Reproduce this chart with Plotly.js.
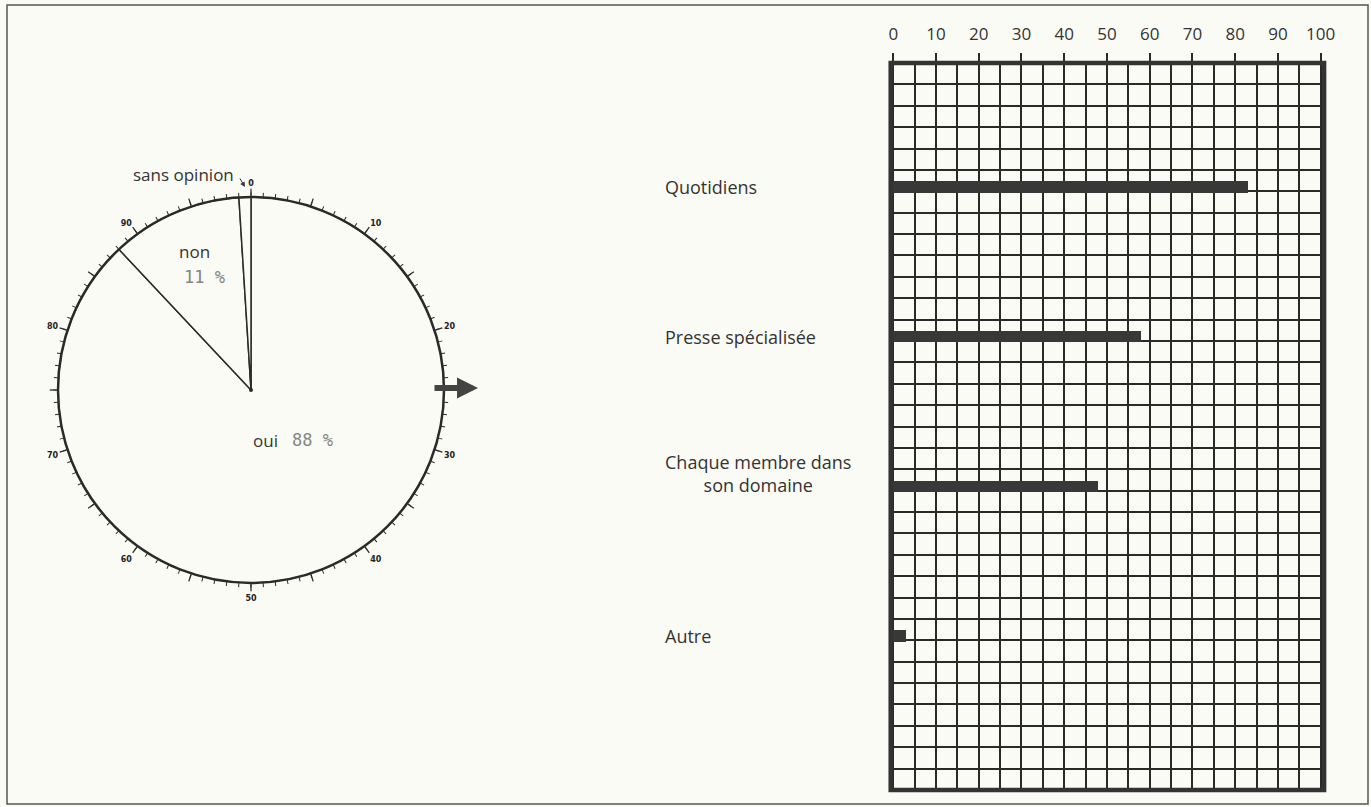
<!DOCTYPE html>
<html>
<head>
<meta charset="utf-8">
<script src="https://cdn.plot.ly/plotly-3.0.1.min.js"></script>
<style>
  html, body { margin: 0; padding: 0; background: #fbfbf6; }
  #chart { width: 1371px; height: 807px; }
</style>
</head>
<body>
<div id="chart"></div>
<script>
// ---- Data ----
const pieLabels = ['oui', 'non', 'sans opinion'];
const pieValues = [88, 11, 1];
const dialTickLabels = ['0', '10', '20', '30', '40', '50', '60', '70', '80', '90'];

const barCategories = ['Quotidiens', 'Presse spécialisée', 'Chaque membre dans<br>son domaine', 'Autre'];
const barValues = [83, 58, 48, 3];
const xTickLabels = [0, 10, 20, 30, 40, 50, 60, 70, 80, 90, 100];

// ---- Helpers / layout ----
const W = 1371, H = 807;
const BG = '#fbfbf6';
const INK = '#2a2a2a';
const SANS = '"Open Sans", Lato, sans-serif';
const MONO = '"DejaVu Sans Mono", "Liberation Mono", monospace';
const DEG_PER_PCT = 3.6;
const px = (x) => x / W;
const py = (y) => 1 - y / H;

// pie wedges (barpolar so they share the dial's angular scale)
let cum = 0;
const wedgeTheta = [], wedgeWidth = [];
pieValues.forEach(v => {
  wedgeTheta.push((cum + v / 2) * DEG_PER_PCT);
  wedgeWidth.push(v * DEG_PER_PCT);
  cum += v;
});

// dial ticks
const majorVals = [], majorText = [];
for (let p = 0; p < 100; p += 5) {
  majorVals.push(p * DEG_PER_PCT);
  majorText.push(p % 10 === 0 ? dialTickLabels[p / 10] : '');
}
const minorVals = [];
for (let p = 0; p < 100; p += 1) minorVals.push(p * DEG_PER_PCT);

// pie geometry (pixels)
const cx = 251, cy = 390, R = 193;
const polarDomain = { x: [px(cx - R), px(cx + R)], y: [py(cy + R), py(cy - R)] };

// bar rows
const ROWS = 34;
const barY = barCategories.map((c, i) => 5.8 + 7 * i);

const traces = [
  {
    type: 'barpolar',
    subplot: 'polar',
    r: pieValues.map(() => 1),
    theta: wedgeTheta,
    width: wedgeWidth,
    text: pieLabels,
    marker: { color: BG, line: { color: INK, width: 1.5 } },
    hoverinfo: 'text',
    showlegend: false
  },
  {
    type: 'scatterpolar',
    subplot: 'polar2',
    r: [0], theta: [0],
    mode: 'markers',
    marker: { size: 4, color: INK },
    hoverinfo: 'skip',
    showlegend: false
  },
  {
    type: 'bar',
    orientation: 'h',
    x: barValues,
    y: barY,
    width: 0.52,
    text: barCategories,
    textposition: 'none',
    marker: { color: '#383838', line: { width: 0 } },
    hoverinfo: 'text+x',
    showlegend: false,
    xaxis: 'x', yaxis: 'y'
  }
];

function note(x, y, text, font) {
  return { xref: 'paper', yref: 'paper', x: px(x), y: py(y), xanchor: 'center', yanchor: 'middle',
           text: text, showarrow: false, font: font };
}

const labelFont = { family: SANS, size: 17, color: '#333' };
const numFont = { family: MONO, size: 17, color: '#858585' };

const annotations = [
  // pie labels
  note(183, 174, pieLabels[2], labelFont),
  { xref: 'paper', yref: 'paper', x: px(245), y: py(187), ax: px(239), ay: py(177),
    axref: 'paper', ayref: 'paper', text: '', showarrow: true,
    arrowhead: 2, arrowsize: 1, arrowwidth: 1, arrowcolor: '#333' },
  note(194, 251, pieLabels[1], labelFont),
  note(204, 277, pieValues[1] + ' %', numFont),
  note(265, 440, pieLabels[0], labelFont),
  note(312, 440, pieValues[0] + ' %', numFont),
  // dial arrow
  { xref: 'paper', yref: 'paper', x: px(478), y: py(388), ax: px(433), ay: py(388),
    axref: 'paper', ayref: 'paper', text: '', showarrow: true,
    arrowhead: 2, arrowsize: 0.7, arrowwidth: 6, arrowcolor: '#444' }
];

barCategories.forEach((c, i) => {
  annotations.push({
    xref: 'paper', yref: 'y', x: px(663), y: barY[i], xanchor: 'left', yanchor: 'middle',
    yshift: c.indexOf('<br>') >= 0 ? 13 : 0,
    text: c, align: 'center', showarrow: false,
    font: { family: SANS, size: 18, color: '#333' }
  });
});

const layout = {
  width: W, height: H,
  margin: { l: 0, r: 0, t: 0, b: 0 },
  paper_bgcolor: BG,
  plot_bgcolor: BG,
  showlegend: false,
  polar: {
    domain: polarDomain,
    bgcolor: 'rgba(0,0,0,0)',
    bargap: 0,
    hole: 0,
    radialaxis: { visible: false, range: [0, 1] },
    angularaxis: {
      rotation: 90,
      direction: 'clockwise',
      tickmode: 'array',
      tickvals: majorVals,
      ticktext: majorText,
      ticks: 'outside',
      ticklen: 7,
      tickwidth: 1.3,
      tickcolor: INK,
      showline: true,
      linecolor: INK,
      linewidth: 2.5,
      showgrid: false,
      tickfont: { family: '"DejaVu Sans", sans-serif', size: 8, color: '#222', weight: 'bold' }
    }
  },
  polar2: {
    domain: polarDomain,
    bgcolor: 'rgba(0,0,0,0)',
    radialaxis: { visible: false, range: [0, 1] },
    angularaxis: {
      rotation: 90,
      direction: 'clockwise',
      tickmode: 'array',
      tickvals: minorVals,
      showticklabels: false,
      ticks: 'outside',
      ticklen: 4,
      tickwidth: 1,
      tickcolor: INK,
      showline: false,
      showgrid: false
    }
  },
  xaxis: {
    domain: [px(890.7), px(1324.1)],
    range: [-0.6, 100.8],
    side: 'top',
    tickmode: 'array',
    tickvals: xTickLabels,
    ticktext: xTickLabels.map(String),
    ticks: 'outside',
    ticklen: 9,
    tickwidth: 2,
    tickcolor: INK,
    ticklabelstandoff: 6,
    showline: false,
    zeroline: false,
    showgrid: true,
    gridcolor: INK,
    gridwidth: 2,
    minor: { tickmode: 'linear', tick0: 0, dtick: 5, showgrid: true, gridcolor: INK, gridwidth: 2, ticks: '' },
    tickfont: { family: SANS, size: 17, color: '#333' },
    fixedrange: true
  },
  yaxis: {
    domain: [py(790), py(63)],
    range: [ROWS, 0],
    tickmode: 'linear',
    tick0: 0,
    dtick: 1,
    showticklabels: false,
    ticks: '',
    showline: false,
    zeroline: false,
    showgrid: true,
    gridcolor: INK,
    gridwidth: 2,
    fixedrange: true
  },
  bargap: 0,
  shapes: [
    { type: 'rect', xref: 'x domain', yref: 'y domain', x0: 0, x1: 1, y0: 0, y1: 1,
      line: { color: '#333', width: 4.5 }, layer: 'above' },
    { type: 'rect', xref: 'paper', yref: 'paper', x0: px(7), x1: px(1368), y0: py(804), y1: py(5),
      line: { color: '#555', width: 1.5 }, layer: 'below' }
  ],
  annotations: annotations
};

Plotly.newPlot('chart', traces, layout, { displayModeBar: false, staticPlot: true });
</script>
</body>
</html>
